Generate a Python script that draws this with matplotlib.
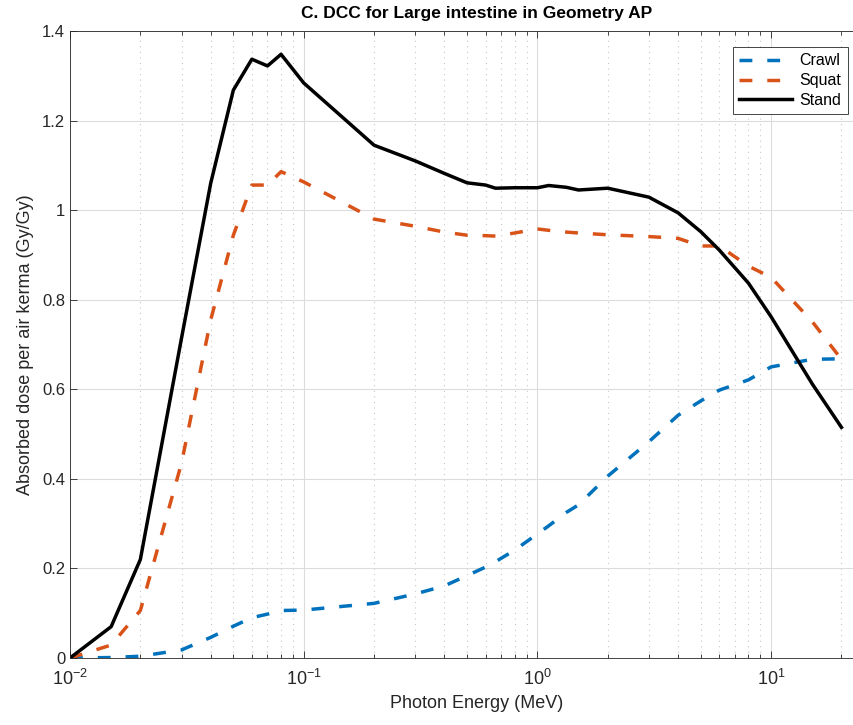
import numpy as np
import matplotlib
matplotlib.use("Agg")
import matplotlib.pyplot as plt
from matplotlib.ticker import FuncFormatter, LogLocator, FixedLocator

plt.rcParams['font.family'] = ['Liberation Sans', 'DejaVu Sans']
plt.rcParams['mathtext.fontset'] = 'custom'
plt.rcParams['mathtext.rm'] = 'Liberation Sans'

## Data
energy = [0.01, 0.015, 0.02, 0.03, 0.04, 0.05, 0.06, 0.07, 0.08, 0.1,
          0.2, 0.3, 0.4, 0.5, 0.6, 0.662, 0.8, 1, 1.117, 1.33,
          1.5, 2, 3, 4, 5, 6, 8, 10, 15, 20]
crawl = [0.0, 0.001, 0.004, 0.018, 0.046, 0.071, 0.090, 0.098, 0.106, 0.107,
         0.122, 0.143, 0.161, 0.184, 0.203, 0.215, 0.241, 0.277, 0.295, 0.325,
         0.342, 0.406, 0.483, 0.542, 0.574, 0.598, 0.621, 0.650, 0.667, 0.668]
squat = [0.0, 0.029, 0.106, 0.435, 0.755, 0.944, 1.056, 1.056, 1.086, 1.063,
         0.980, 0.964, 0.951, 0.944, 0.943, 0.942, 0.949, 0.958, 0.955, 0.951,
         0.949, 0.945, 0.941, 0.937, 0.920, 0.920, 0.875, 0.850, 0.751, 0.667]
stand = [0.0, 0.070, 0.220, 0.714, 1.060, 1.268, 1.337, 1.322, 1.348, 1.284,
         1.145, 1.110, 1.082, 1.061, 1.056, 1.049, 1.050, 1.050, 1.055, 1.051,
         1.045, 1.049, 1.029, 0.994, 0.952, 0.911, 0.837, 0.762, 0.612, 0.515]
labels = ['Crawl', 'Squat', 'Stand']
colors = ['#0072BD', '#D95319', 'k']

fig = plt.figure(figsize=(8.54, 7.25), dpi=100)
# axes runs past the right edge like the cropped original
ax = fig.add_axes([70/854, 67/725, 812.6/854, 627/725])

dash = (0, (3.7, 4.3))
ax.plot(energy, crawl, color=colors[0], lw=2.5, linestyle=dash, label=labels[0])
ax.plot(energy, squat, color=colors[1], lw=2.5, linestyle=dash, label=labels[1])
ax.plot(energy, stand, color=colors[2], lw=2.5, label=labels[2])

ax.set_xscale('log')
ax.set_xlim(0.01, 30)
ax.set_ylim(0, 1.4)
ax.yaxis.set_major_locator(FixedLocator(np.arange(0, 1.41, 0.2)))
ax.yaxis.set_major_formatter(FuncFormatter(lambda v, p: '%g' % round(v, 2)))
ax.xaxis.set_major_locator(LogLocator(base=10, numticks=10))
ax.xaxis.set_minor_locator(LogLocator(base=10, subs=np.arange(2, 10), numticks=20))

ax.grid(True, which='major', color='#dcdcdc', lw=0.8, ls='-')
ax.grid(True, which='minor', axis='x', color='#c8c8c8', lw=0.8, ls=(0, (1, 4)))
ax.set_axisbelow(True)

ax.tick_params(which='both', direction='in', top=True, right=True,
               labelsize=12, colors='#262626', width=0.6)
ax.tick_params(which='major', length=5)
ax.tick_params(which='minor', length=3)
ax.tick_params(axis='x', pad=8, labelsize=13)
for s in ax.spines.values():
    s.set_color('#262626')
    s.set_linewidth(0.6)

ax.set_title('C. DCC for Large intestine in Geometry AP', fontsize=12.5,
             fontweight='bold', pad=9)
ax.set_xlabel('Photon Energy (MeV)', fontsize=13, color='#262626')
ax.set_ylabel('Absorbed dose per air kerma (Gy/Gy)', fontsize=13,
              color='#262626', labelpad=6)

leg = ax.legend(loc='upper right', bbox_to_anchor=(848/854, 1 - 47/725),
                bbox_transform=fig.transFigure, borderaxespad=0,
                fontsize=11.5, handlelength=3.3, labelspacing=0.3,
                handletextpad=0.5, fancybox=False, framealpha=1)
leg.get_frame().set_edgecolor('#262626')
leg.get_frame().set_linewidth(0.6)

fig.savefig('out.png', dpi=100)
